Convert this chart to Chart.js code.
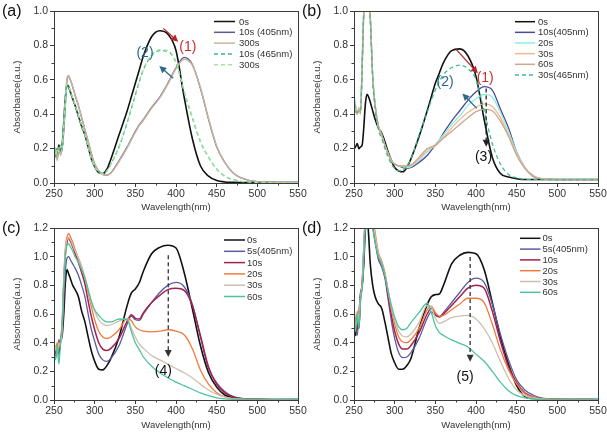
<!DOCTYPE html>
<html>
<head>
<meta charset="utf-8">
<script src="https://cdn.jsdelivr.net/npm/chart.js@4.4.0/dist/chart.umd.min.js"></script>
<style>
  html, body { margin: 0; padding: 0; background: #fff; }
  body { width: 607px; height: 433px; position: relative; overflow: hidden; }
  canvas { position: absolute; }
</style>
</head>
<body>
<canvas id="chartA" style="left:0;top:0" width="310" height="215"></canvas>
<canvas id="chartB" style="left:300px;top:0" width="307" height="215"></canvas>
<canvas id="chartC" style="left:0;top:215px" width="310" height="218"></canvas>
<canvas id="chartD" style="left:300px;top:215px" width="307" height="218"></canvas>
<script>
// shared wavelength grid (nm)
const wavelengths = [250, 252, 254, 256, 258, 260, 262, 264, 266, 268,
    270, 273, 276, 280, 284, 288, 292, 296, 300, 305,
    310, 315, 320, 330, 340, 345, 350, 355, 360, 370,
    380, 390, 400, 410, 420, 430, 440, 450, 460, 470,
    480, 500, 550];

const xTicks = [250, 300, 350, 400, 450, 500, 550];

// (a)
const aLabels = ['0s', '10s (405nm)', '300s', '10s (465nm)', '300s'];
const a0s = [0.17, 0.2, 0.16, 0.22, 0.18, 0.22, 0.35, 0.5, 0.57, 0.56, 0.53, 0.49, 0.45, 0.39, 0.33, 0.28, 0.21, 0.14, 0.095, 0.06, 0.055, 0.08, 0.14, 0.28, 0.42, 0.5, 0.58, 0.66, 0.74, 0.85, 0.885, 0.865, 0.77, 0.5, 0.26, 0.1, 0.04, 0.015, 0.006, 0.004, 0.003, 0.002, 0.002];
const a10s405 = [0.13, 0.18, 0.14, 0.2, 0.17, 0.2, 0.3, 0.45, 0.6, 0.62, 0.6, 0.56, 0.51, 0.45, 0.38, 0.31, 0.24, 0.17, 0.11, 0.07, 0.05, 0.045, 0.06, 0.13, 0.21, 0.255, 0.3, 0.34, 0.37, 0.44, 0.5, 0.58, 0.67, 0.73, 0.69, 0.55, 0.37, 0.21, 0.12, 0.06, 0.03, 0.008, 0.003];
const a300s405 = [0.15, 0.2, 0.13, 0.21, 0.16, 0.21, 0.32, 0.47, 0.61, 0.625, 0.6, 0.56, 0.51, 0.45, 0.38, 0.31, 0.24, 0.17, 0.11, 0.07, 0.05, 0.045, 0.058, 0.125, 0.205, 0.25, 0.295, 0.335, 0.365, 0.435, 0.495, 0.575, 0.665, 0.72, 0.685, 0.555, 0.375, 0.215, 0.12, 0.06, 0.03, 0.008, 0.003];
const a10s465 = [0.2, 0.15, 0.21, 0.17, 0.22, 0.2, 0.33, 0.48, 0.57, 0.56, 0.53, 0.49, 0.45, 0.39, 0.33, 0.28, 0.21, 0.14, 0.095, 0.065, 0.055, 0.07, 0.11, 0.21, 0.35, 0.43, 0.51, 0.59, 0.66, 0.74, 0.77, 0.765, 0.7, 0.53, 0.38, 0.24, 0.15, 0.08, 0.04, 0.02, 0.01, 0.004, 0.002];
const a300s465 = [0.19, 0.16, 0.2, 0.18, 0.21, 0.21, 0.34, 0.49, 0.575, 0.565, 0.535, 0.495, 0.455, 0.395, 0.335, 0.285, 0.21, 0.14, 0.095, 0.065, 0.055, 0.07, 0.11, 0.215, 0.355, 0.435, 0.515, 0.595, 0.665, 0.745, 0.775, 0.77, 0.705, 0.535, 0.385, 0.245, 0.15, 0.08, 0.04, 0.02, 0.01, 0.004, 0.002];

// (b)
const bLabels = ['0s', '10s(405nm)', '20s', '30s', '60s', '30s(465nm)'];
const b0s = [0.2, 0.21, 0.23, 0.2, 0.21, 0.22, 0.32, 0.46, 0.515, 0.5, 0.47, 0.42, 0.37, 0.32, 0.29, 0.24, 0.18, 0.13, 0.09, 0.07, 0.065, 0.09, 0.14, 0.27, 0.42, 0.5, 0.58, 0.64, 0.7, 0.77, 0.78, 0.74, 0.62, 0.37, 0.15, 0.055, 0.035, 0.025, 0.02, 0.02, 0.02, 0.02, 0.02];
const b10s = [0.5, 0.44, 0.42, 0.42, 0.42, 0.7, 1.0, 1.2, 1.25, 1.12, 0.97, 0.62, 0.45, 0.33, 0.28, 0.22, 0.17, 0.13, 0.11, 0.1, 0.09, 0.085, 0.09, 0.12, 0.16, 0.19, 0.22, 0.25, 0.29, 0.36, 0.42, 0.48, 0.53, 0.56, 0.54, 0.43, 0.32, 0.18, 0.09, 0.04, 0.025, 0.02, 0.02];
const b20s = [0.52, 0.45, 0.41, 0.43, 0.43, 0.68, 1.0, 1.2, 1.25, 1.12, 0.97, 0.62, 0.45, 0.33, 0.28, 0.22, 0.17, 0.13, 0.11, 0.1, 0.095, 0.09, 0.095, 0.13, 0.18, 0.2, 0.22, 0.25, 0.28, 0.34, 0.39, 0.45, 0.49, 0.515, 0.5, 0.41, 0.3, 0.18, 0.09, 0.045, 0.025, 0.02, 0.02];
const b30s = [0.5, 0.43, 0.4, 0.44, 0.41, 0.66, 1.0, 1.2, 1.25, 1.12, 0.97, 0.62, 0.45, 0.33, 0.28, 0.22, 0.17, 0.13, 0.11, 0.1, 0.1, 0.095, 0.1, 0.14, 0.19, 0.205, 0.215, 0.24, 0.265, 0.32, 0.37, 0.41, 0.44, 0.46, 0.445, 0.38, 0.28, 0.17, 0.09, 0.045, 0.025, 0.02, 0.02];
const b60s = [0.48, 0.42, 0.4, 0.43, 0.4, 0.65, 1.0, 1.2, 1.25, 1.12, 0.97, 0.62, 0.45, 0.33, 0.28, 0.22, 0.17, 0.13, 0.11, 0.1, 0.1, 0.1, 0.105, 0.15, 0.2, 0.21, 0.22, 0.24, 0.26, 0.3, 0.34, 0.38, 0.415, 0.43, 0.42, 0.36, 0.27, 0.16, 0.085, 0.04, 0.025, 0.02, 0.02];
const b30s465 = [0.5, 0.42, 0.41, 0.42, 0.42, 0.66, 1.0, 1.2, 1.25, 1.12, 0.95, 0.6, 0.43, 0.31, 0.26, 0.2, 0.15, 0.11, 0.085, 0.07, 0.075, 0.1, 0.14, 0.28, 0.41, 0.48, 0.54, 0.59, 0.63, 0.67, 0.685, 0.665, 0.6, 0.42, 0.23, 0.11, 0.05, 0.03, 0.022, 0.02, 0.02, 0.02, 0.02];

// (c)
const cLabels = ['0s', '5s(405nm)', '10s', '20s', '30s', '60s'];
const c0s = [0.35, 0.3, 0.38, 0.32, 0.42, 0.45, 0.6, 0.82, 0.91, 0.88, 0.85, 0.8, 0.77, 0.72, 0.62, 0.545, 0.44, 0.34, 0.27, 0.215, 0.21, 0.24, 0.29, 0.44, 0.66, 0.745, 0.775, 0.82, 0.9, 1.02, 1.065, 1.08, 1.06, 0.89, 0.64, 0.38, 0.19, 0.09, 0.035, 0.015, 0.008, 0.005, 0.003];
const c5s = [0.3, 0.38, 0.34, 0.42, 0.4, 0.45, 0.7, 0.9, 0.99, 1.0, 0.98, 0.95, 0.92, 0.87, 0.8, 0.72, 0.6, 0.49, 0.41, 0.32, 0.28, 0.27, 0.29, 0.38, 0.53, 0.585, 0.56, 0.555, 0.6, 0.68, 0.75, 0.8, 0.82, 0.79, 0.67, 0.44, 0.22, 0.12, 0.06, 0.025, 0.012, 0.005, 0.003];
const c10s = [0.35, 0.32, 0.38, 0.36, 0.42, 0.5, 0.8, 1.02, 1.1, 1.13, 1.11, 1.07, 1.02, 0.96, 0.89, 0.81, 0.69, 0.58, 0.49, 0.4, 0.355, 0.345, 0.36, 0.43, 0.55, 0.595, 0.57, 0.565, 0.61, 0.68, 0.73, 0.77, 0.78, 0.765, 0.66, 0.45, 0.23, 0.11, 0.05, 0.022, 0.01, 0.005, 0.003];
const c20s = [0.38, 0.35, 0.4, 0.37, 0.42, 0.55, 0.85, 1.06, 1.14, 1.16, 1.14, 1.1, 1.05, 0.99, 0.93, 0.85, 0.75, 0.65, 0.56, 0.48, 0.44, 0.43, 0.44, 0.49, 0.57, 0.555, 0.51, 0.49, 0.48, 0.475, 0.48, 0.49, 0.48, 0.455, 0.36, 0.21, 0.11, 0.05, 0.022, 0.01, 0.006, 0.004, 0.003];
const c30s = [0.33, 0.38, 0.3, 0.4, 0.38, 0.5, 0.82, 1.04, 1.12, 1.13, 1.12, 1.08, 1.04, 0.99, 0.93, 0.86, 0.77, 0.68, 0.62, 0.56, 0.53, 0.52, 0.525, 0.55, 0.57, 0.5, 0.44, 0.39, 0.36, 0.31, 0.28, 0.25, 0.22, 0.19, 0.155, 0.11, 0.07, 0.04, 0.02, 0.01, 0.006, 0.004, 0.003];
const c60s = [0.35, 0.28, 0.38, 0.25, 0.4, 0.52, 0.8, 1.0, 1.08, 1.09, 1.07, 1.04, 1.0, 0.96, 0.91, 0.85, 0.77, 0.69, 0.63, 0.59, 0.56, 0.545, 0.545, 0.565, 0.56, 0.48, 0.4, 0.35, 0.3, 0.235, 0.19, 0.155, 0.125, 0.1, 0.075, 0.05, 0.03, 0.015, 0.008, 0.005, 0.004, 0.003, 0.002];

// (d)
const dLabels = ['0s', '5s(405nm)', '10s', '20s', '30s', '60s'];
const d0s = [0.65, 0.45, 0.55, 0.5, 0.72, 0.8, 0.95, 1.2, 1.3, 1.15, 0.95, 0.8, 0.72, 0.67, 0.64, 0.545, 0.43, 0.32, 0.26, 0.215, 0.215, 0.24, 0.29, 0.5, 0.665, 0.72, 0.735, 0.74, 0.8, 0.95, 1.01, 1.03, 1.02, 0.91, 0.68, 0.44, 0.25, 0.1, 0.025, 0.01, 0.006, 0.004, 0.003];
const d5s = [0.6, 0.5, 0.45, 0.6, 0.75, 0.78, 1.0, 1.25, 1.4, 1.4, 1.3, 1.2, 1.1, 0.98, 0.93, 0.85, 0.7, 0.55, 0.43, 0.33, 0.295, 0.3, 0.33, 0.43, 0.57, 0.615, 0.59, 0.58, 0.61, 0.68, 0.75, 0.82, 0.85, 0.82, 0.67, 0.46, 0.28, 0.14, 0.07, 0.035, 0.015, 0.006, 0.003];
const d10s = [0.62, 0.48, 0.5, 0.58, 0.72, 0.8, 1.05, 1.3, 1.45, 1.45, 1.35, 1.25, 1.13, 1.0, 0.95, 0.87, 0.73, 0.59, 0.48, 0.39, 0.355, 0.355, 0.38, 0.47, 0.6, 0.64, 0.6, 0.58, 0.6, 0.66, 0.72, 0.78, 0.8, 0.78, 0.62, 0.41, 0.23, 0.12, 0.05, 0.022, 0.01, 0.005, 0.003];
const d20s = [0.6, 0.5, 0.62, 0.55, 0.7, 0.82, 1.05, 1.3, 1.45, 1.45, 1.38, 1.28, 1.17, 1.03, 0.97, 0.89, 0.76, 0.63, 0.53, 0.44, 0.405, 0.4, 0.42, 0.5, 0.63, 0.655, 0.61, 0.585, 0.59, 0.63, 0.67, 0.71, 0.71, 0.68, 0.53, 0.35, 0.21, 0.11, 0.045, 0.02, 0.01, 0.006, 0.003];
const d30s = [0.6, 0.52, 0.55, 0.6, 0.72, 0.8, 1.05, 1.3, 1.42, 1.42, 1.35, 1.25, 1.15, 1.02, 0.96, 0.88, 0.76, 0.65, 0.56, 0.48, 0.445, 0.44, 0.46, 0.54, 0.66, 0.65, 0.57, 0.535, 0.545, 0.575, 0.585, 0.59, 0.565, 0.5, 0.4, 0.27, 0.15, 0.07, 0.03, 0.014, 0.007, 0.004, 0.003];
const d60s = [0.55, 0.48, 0.6, 0.5, 0.7, 0.78, 1.0, 1.25, 1.38, 1.38, 1.3, 1.2, 1.1, 1.0, 0.95, 0.87, 0.76, 0.66, 0.58, 0.51, 0.49, 0.5, 0.54, 0.61, 0.675, 0.61, 0.52, 0.47, 0.45, 0.42, 0.395, 0.37, 0.32, 0.27, 0.2, 0.125, 0.065, 0.03, 0.015, 0.008, 0.005, 0.003, 0.002];

const FONT = 'Arial, "Liberation Sans", sans-serif';
const AXIS = '#3a3a3a';
const TEXT = '#333';

// colours
const BLACK = '#111111';
const PURPLE = '#5c5ca3';
const RED = '#a3214b';
const ORANGE = '#f27a3e';
const TAN = '#cdbfae';
const TEAL = '#4fc39d';
const DARKRED = '#b5262c';
const BLUE = '#2c6a88';

// draws an arrow between two pixel points
function arrow(ctx, x1, y1, x2, y2, color, dashed) {
    const ang = Math.atan2(y2 - y1, x2 - x1);
    const head = 7;
    ctx.save();
    ctx.strokeStyle = color;
    ctx.fillStyle = color;
    ctx.lineWidth = 1.3;
    ctx.setLineDash(dashed ? [4, 3] : []);
    ctx.beginPath();
    ctx.moveTo(x1, y1);
    ctx.lineTo(x2 - Math.cos(ang) * head * 0.8, y2 - Math.sin(ang) * head * 0.8);
    ctx.stroke();
    ctx.setLineDash([]);
    ctx.beginPath();
    ctx.moveTo(x2, y2);
    ctx.lineTo(x2 - head * Math.cos(ang) + 3.5 * Math.sin(ang), y2 - head * Math.sin(ang) - 3.5 * Math.cos(ang));
    ctx.lineTo(x2 - head * Math.cos(ang) - 3.5 * Math.sin(ang), y2 - head * Math.sin(ang) + 3.5 * Math.cos(ang));
    ctx.closePath();
    ctx.fill();
    ctx.restore();
}

// frame, minor ticks, legend, panel letter and arrows
function decor(p) {
    return {
        id: 'decor',
        afterDatasetsDraw(chart) {
            const { ctx, chartArea: a, scales: { x, y } } = chart;
            ctx.save();
            ctx.strokeStyle = AXIS;
            ctx.lineWidth = 1;
            ctx.strokeRect(Math.round(a.left) + 0.5, Math.round(a.top) + 0.5, Math.round(a.right - a.left), Math.round(a.bottom - a.top));

            // minor ticks
            ctx.beginPath();
            for (let v = 275; v < 550; v += 50) {
                const px = Math.round(x.getPixelForValue(v)) + 0.5;
                ctx.moveTo(px, a.bottom);
                ctx.lineTo(px, a.bottom + 2.5);
            }
            for (let v = 0.1; v < p.ymax; v += 0.2) {
                const py = Math.round(y.getPixelForValue(v)) + 0.5;
                ctx.moveTo(a.left, py);
                ctx.lineTo(a.left - 2.5, py);
            }
            ctx.stroke();

            // legend
            ctx.font = '9.5px ' + FONT;
            ctx.textBaseline = 'middle';
            ctx.textAlign = 'left';
            chart.data.datasets.forEach((ds, i) => {
                const ly = p.legend.y0 + i * p.legend.dy;
                ctx.strokeStyle = ds.borderColor;
                ctx.lineWidth = 1.5;
                ctx.setLineDash(ds.borderDash || []);
                ctx.beginPath();
                ctx.moveTo(p.legend.x1, ly);
                ctx.lineTo(p.legend.x2, ly);
                ctx.stroke();
                ctx.setLineDash([]);
                ctx.fillStyle = TEXT;
                ctx.fillText(ds.label, p.legend.tx, ly + 0.5);
            });

            // panel letter
            ctx.font = '16px ' + FONT;
            ctx.fillStyle = '#111';
            ctx.textBaseline = 'middle';
            ctx.fillText(p.letter, 2, p.letterY);

            // arrows and step labels
            p.notes.forEach(n => {
                if (n.text) {
                    ctx.font = '14px ' + FONT;
                    ctx.fillStyle = n.color;
                    ctx.textAlign = 'center';
                    ctx.textBaseline = 'middle';
                    ctx.fillText(n.text, x.getPixelForValue(n.at[0]), y.getPixelForValue(n.at[1]));
                } else {
                    arrow(ctx, x.getPixelForValue(n.from[0]), y.getPixelForValue(n.from[1]),
                        x.getPixelForValue(n.to[0]), y.getPixelForValue(n.to[1]), n.color, n.dashed);
                }
            });
            ctx.restore();
        }
    };
}

function makeChart(p) {
    // later series are drawn on top, as in the original plot
    const datasets = p.series.map((s, i) => ({
        label: p.labels[i],
        data: wavelengths.map((w, k) => ({ x: w, y: s.values[k] })),
        borderColor: s.color,
        borderWidth: s.width || 1.3,
        borderDash: s.dash || [],
        pointRadius: 0,
        cubicInterpolationMode: 'monotone',
        fill: false,
        order: -i
    }));

    new Chart(document.getElementById(p.id), {
        type: 'line',
        data: { datasets },
        options: {
            responsive: false,
            animation: false,
            events: [],
            layout: { padding: { left: 0, top: p.top, right: p.right, bottom: 0 } },
            plugins: { legend: { display: false }, tooltip: { enabled: false } },
            scales: {
                x: {
                    type: 'linear', min: 250, max: 550,
                    afterBuildTicks: s => { s.ticks = xTicks.map(v => ({ value: v })); },
                    ticks: { color: TEXT, font: { family: FONT, size: 10.5 }, padding: 1, maxRotation: 0, autoSkip: false },
                    grid: { drawOnChartArea: false, drawTicks: true, tickLength: 4, color: AXIS },
                    border: { color: AXIS },
                    title: { display: true, text: 'Wavelength(nm)', color: TEXT, font: { family: FONT, size: 9.5 }, padding: { top: 0, bottom: 1.5 } },
                    afterFit: s => { s.height = p.xh; s.paddingLeft = 0; s.paddingRight = 0; }
                },
                y: {
                    min: 0, max: p.ymax,
                    ticks: { stepSize: 0.2, color: TEXT, font: { family: FONT, size: 10.5 }, padding: 2, callback: v => v.toFixed(1) },
                    grid: { drawOnChartArea: false, drawTicks: true, tickLength: 4, color: AXIS },
                    border: { color: AXIS },
                    title: { display: true, text: 'Absorbance(a.u.)', color: TEXT, font: { family: FONT, size: 9.5 }, padding: { top: 11.5, bottom: 0 } },
                    afterFit: s => { s.width = 54; s.paddingTop = 0; s.paddingBottom = 0; }
                }
            }
        },
        plugins: [decor(p)]
    });
}

makeChart({
    id: 'chartA', ymax: 1.0, top: 11, right: 12, xh: 32, letter: '(a)', letterY: 12,
    labels: aLabels,
    series: [
        { values: a0s, color: BLACK, width: 1.6 },
        { values: a10s405, color: '#5a5a9c' },
        { values: a300s405, color: '#c9b39c', width: 1.5 },
        { values: a10s465, color: '#33bd85', dash: [4, 3] },
        { values: a300s465, color: '#a6e3a0', dash: [4, 3] }
    ],
    legend: { x1: 214, x2: 235, tx: 239, y0: 21.5, dy: 10.8 },
    notes: [
        { from: [384.4, 0.899], to: [402.7, 0.821], color: DARKRED },
        { text: '(1)', at: [414.6, 0.79], color: '#c8302f' },
        { text: '(2)', at: [361.9, 0.756], color: BLUE },
        { from: [396.6, 0.609], to: [379.5, 0.68], color: BLUE }
    ]
});

makeChart({
    id: 'chartB', ymax: 1.0, top: 11, right: 9, xh: 32, letter: '(b)', letterY: 12,
    labels: bLabels,
    series: [
        { values: b0s, color: BLACK, width: 1.6 },
        { values: b10s, color: '#4a4a9c' },
        { values: b20s, color: '#8cefe0' },
        { values: b30s, color: '#f4b697' },
        { values: b60s, color: '#c7a98f' },
        { values: b30s465, color: '#3dbf88', dash: [4, 3] }
    ],
    legend: { x1: 215, x2: 235, tx: 238, y0: 21.7, dy: 10.65 },
    notes: [
        { from: [375.6, 0.777], to: [402.3, 0.638], color: DARKRED },
        { text: '(1)', at: [411.3, 0.609], color: '#c8302f' },
        { text: '(2)', at: [362, 0.589], color: BLUE },
        { from: [401, 0.434], to: [383.3, 0.52], color: BLUE },
        { from: [412.5, 0.55], to: [412.5, 0.211], color: '#222', dashed: true },
        { text: '(3)', at: [409.2, 0.153], color: '#111' }
    ]
});

makeChart({
    id: 'chartC', ymax: 1.2, top: 13, right: 12, xh: 33, letter: '(c)', letterY: 14,
    labels: cLabels,
    series: [
        { values: c0s, color: BLACK, width: 1.6 },
        { values: c5s, color: PURPLE },
        { values: c10s, color: RED, width: 1.5 },
        { values: c20s, color: ORANGE },
        { values: c30s, color: TAN },
        { values: c60s, color: TEAL }
    ],
    legend: { x1: 224, x2: 245, tx: 247, y0: 25, dy: 11.3 },
    notes: [
        { from: [390.5, 1.01], to: [390.5, 0.30], color: '#333', dashed: true },
        { text: '(4)', at: [384.4, 0.2], color: '#111' }
    ]
});

makeChart({
    id: 'chartD', ymax: 1.2, top: 13, right: 9, xh: 33, letter: '(d)', letterY: 14,
    labels: dLabels,
    series: [
        { values: d0s, color: BLACK, width: 1.6 },
        { values: d5s, color: PURPLE },
        { values: d10s, color: RED, width: 1.5 },
        { values: d20s, color: ORANGE },
        { values: d30s, color: TAN },
        { values: d60s, color: TEAL }
    ],
    legend: { x1: 220, x2: 240.5, tx: 242.5, y0: 23.3, dy: 10.8 },
    notes: [
        { from: [392.8, 0.998], to: [392.8, 0.267], color: '#333', dashed: true },
        { text: '(5)', at: [386.6, 0.162], color: '#111' }
    ]
});
</script>
</body>
</html>
